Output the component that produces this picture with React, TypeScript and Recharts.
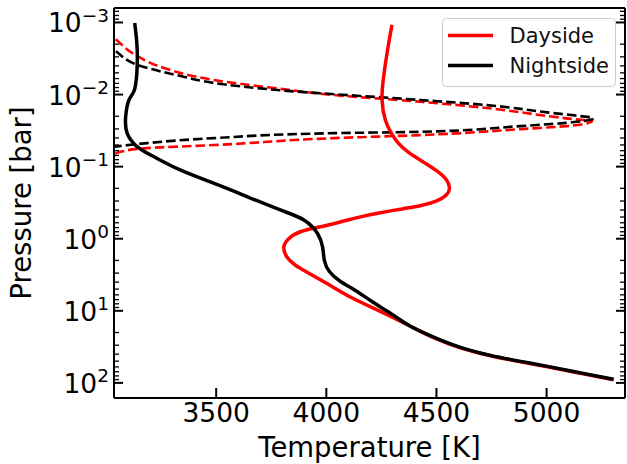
import React from "react";
import { LineChart, Line, XAxis, YAxis, Legend } from "recharts";

// Dayside temperature profile
const dayT = [4298, 4278, 4260, 4253, 4268, 4295, 4327, 4372, 4434, 4500, 4545, 4559, 4548, 4504, 4427, 4350, 4245, 4154, 4004, 3882, 3827, 3807, 3821, 3854, 3897, 4003, 4109, 4245, 4382, 4495, 4609, 4745, 4882, 5004, 5154, 5304];
const dayP = [1.08e-3, 2.41e-3, 5.71e-3, 0.0119, 0.0226, 0.0343, 0.0472, 0.063, 0.0839, 0.1136, 0.152, 0.196, 0.241, 0.297, 0.348, 0.383, 0.435, 0.498, 0.649, 0.8, 1.02, 1.31, 1.79, 2.26, 2.74, 4.19, 6.43, 10.2, 16.4, 24.2, 32.6, 42.1, 51.0, 59.8, 73.6, 90.5];

// Nightside temperature profile
const nightT = [3130, 3139, 3142, 3139, 3127, 3104, 3089, 3096, 3142, 3218, 3339, 3491, 3642, 3794, 3900, 3960, 3983, 3991, 4013, 4063, 4132, 4209, 4291, 4382, 4495, 4609, 4745, 4882, 5004, 5154, 5304];
const nightP = [1.016e-3, 1.81e-3, 3.11e-3, 5.36e-3, 8.93e-3, 0.0119, 0.0203, 0.0346, 0.0531, 0.0731, 0.112, 0.171, 0.262, 0.402, 0.553, 0.847, 1.3, 1.99, 2.83, 3.89, 5.21, 7.5, 10.8, 16.4, 23.7, 32.1, 41.5, 50.3, 59.0, 72.6, 89.3];

// contribution functions (dashed)
const dayCfT = [2995, 3036, 3141, 3263, 3491, 3763, 4036, 4427, 4730, 5031, 5168, 5207, 5139, 4881, 4427, 4036, 3491, 3186, 3066, 3036, 2995];
const dayCfP = [1.31e-3, 1.64e-3, 2.92e-3, 4.29e-3, 6.3e-3, 8.13e-3, 0.01016, 0.0126, 0.0154, 0.0203, 0.0226, 0.0231, 0.0265, 0.0302, 0.0365, 0.0402, 0.0502, 0.0553, 0.0622, 0.067, 0.0741];
const nightCfT = [2995, 3036, 3157, 3339, 3491, 3763, 4427, 4730, 5031, 5154, 5212, 5139, 4881, 4427, 4036, 3491, 3186, 3036, 2995];
const nightCfP = [1.93e-3, 2.39e-3, 4.02e-3, 5.53e-3, 6.92e-3, 8.57e-3, 0.0119, 0.014, 0.0181, 0.0199, 0.0212, 0.0239, 0.0274, 0.0329, 0.0343, 0.0402, 0.0472, 0.0531, 0.0553];

const xTicks = [3500, 4000, 4500, 5000];
const yMajor = [1e-3, 1e-2, 1e-1, 1, 10, 100];
const yExp = ["\u22123", "\u22122", "\u22121", "0", "1", "2"];
const legendNames = ["Dayside", "Nightside"];
const legendColors = ["#ff0000", "#000000"];

const X_DOMAIN = [3036, 5356];
const Y_DOMAIN = [6.3e-4, 162];
const FONT = "DejaVu Sans";

const toRows = (t: number[], p: number[]) => t.map((T, i) => ({ T, P: p[i] }));

const yTicks: number[] = [];
for (let k = -4; k <= 2; k++) {
  for (let m = 1; m <= 9; m++) {
    const v = m * Math.pow(10, k);
    if (v >= Y_DOMAIN[0] && v <= Y_DOMAIN[1]) yTicks.push(v);
  }
}

const majorIndex = (v: number) =>
  yMajor.findIndex((m) => Math.abs(Math.log10(m) - Math.log10(v)) < 1e-6);

const YTickLeft = (props: any) => {
  const { x, y, payload } = props;
  const idx = majorIndex(payload.value);
  const major = idx >= 0;
  return (
    <g>
      <line x1={x} x2={x + (major ? 9 : 5)} y1={y} y2={y} stroke="#000" strokeWidth={major ? 2 : 1.3} />
      {major && (
        <text x={x - 5} y={y + 10} textAnchor="end" fontSize={26.5} fill="#000" fontFamily={FONT}>
          <tspan>10</tspan>
          <tspan dy={-10.6} fontSize={18.5}>{yExp[idx]}</tspan>
        </text>
      )}
    </g>
  );
};

const YTickRight = (props: any) => {
  const { x, y, payload } = props;
  const major = majorIndex(payload.value) >= 0;
  return <line x1={x} x2={x - (major ? 9 : 5)} y1={y} y2={y} stroke="#000" strokeWidth={major ? 2 : 1.3} />;
};

const XTickBottom = (props: any) => {
  const { x, y, payload } = props;
  return (
    <g>
      <line x1={x} x2={x} y1={y} y2={y - 10} stroke="#000" strokeWidth={2} />
      <text x={x} y={y + 23.5} textAnchor="middle" fontSize={26.5} fill="#000" fontFamily={FONT}>
        {payload.value}
      </text>
    </g>
  );
};

const XTickTop = (props: any) => {
  const { x, y } = props;
  return <line x1={x} x2={x} y1={y} y2={y + 10} stroke="#000" strokeWidth={2} />;
};

const renderXLabel = () => (
  <text x={369.5} y={456.5} textAnchor="middle" fontSize={27.5} fill="#000" fontFamily={FONT}>
    Temperature [K]
  </text>
);

const renderYLabel = () => (
  <text x={30.5} y={203} transform="rotate(-90 30.5 203)" textAnchor="middle" fontSize={27.5} fill="#000" fontFamily={FONT}>
    Pressure [bar]
  </text>
);

const renderLegend = () => (
  <svg width={175} height={70} style={{ display: "block" }}>
    <rect x={0.5} y={0.5} width={173} height={68} rx={4} fill="#fff" fillOpacity={0.8} stroke="#cccccc" />
    {legendNames.map((n, i) => (
      <g key={n}>
        <line x1={6} x2={51} y1={17.5 + 30 * i} y2={17.5 + 30 * i} stroke={legendColors[i]} strokeWidth={3.5} />
        <text x={67.5} y={25 + 30 * i} fontSize={21} fill="#111" fontFamily={FONT}>
          {n}
        </text>
      </g>
    ))}
  </svg>
);

export default function App() {
  const axisLine = { stroke: "#000", strokeWidth: 2 };
  return (
    <div style={{ position: "absolute", left: 0, top: 0, fontFamily: FONT }}>
      <LineChart width={627} height={464} margin={{ top: 7, right: 1, bottom: 0, left: 0 }}>
        <XAxis
          dataKey="T"
          type="number"
          domain={X_DOMAIN}
          ticks={xTicks}
          interval={0}
          allowDataOverflow
          height={66}
          tickLine={false}
          tickSize={0}
          tickMargin={0}
          tick={XTickBottom}
          axisLine={axisLine}
          label={renderXLabel}
        />
        <XAxis
          xAxisId="top"
          orientation="top"
          type="number"
          domain={X_DOMAIN}
          ticks={xTicks}
          interval={0}
          allowDataOverflow
          height={1}
          tickLine={false}
          tickSize={0}
          tickMargin={0}
          tick={XTickTop}
          axisLine={axisLine}
        />
        <YAxis
          type="number"
          scale="log"
          reversed
          domain={Y_DOMAIN}
          ticks={yTicks}
          interval={0}
          allowDataOverflow
          width={114}
          tickLine={false}
          tickSize={0}
          tickMargin={0}
          tick={YTickLeft}
          axisLine={axisLine}
          label={renderYLabel}
        />
        <YAxis
          yAxisId="right"
          orientation="right"
          type="number"
          scale="log"
          reversed
          domain={Y_DOMAIN}
          ticks={yTicks}
          interval={0}
          allowDataOverflow
          width={1}
          tickLine={false}
          tickSize={0}
          tickMargin={0}
          tick={YTickRight}
          axisLine={axisLine}
        />
        <Legend
          verticalAlign="middle"
          align="center"
          content={renderLegend}
          wrapperStyle={{ left: 442, top: 18, width: 175, height: 70 }}
        />
        <Line data={toRows(dayCfT, dayCfP)} dataKey="P" type="monotoneY" stroke="#ff0000" strokeWidth={2.6} strokeDasharray="9.5 4" dot={false} activeDot={false} legendType="none" isAnimationActive={false} />
        <Line data={toRows(nightCfT, nightCfP)} dataKey="P" type="monotoneY" stroke="#000000" strokeWidth={2.6} strokeDasharray="9.5 4" dot={false} activeDot={false} legendType="none" isAnimationActive={false} />
        <Line data={toRows(dayT, dayP)} dataKey="P" name="Dayside" type="natural" stroke="#ff0000" strokeWidth={3.5} dot={false} activeDot={false} isAnimationActive={false} />
        <Line data={toRows(nightT, nightP)} dataKey="P" name="Nightside" type="natural" stroke="#000000" strokeWidth={3.5} dot={false} activeDot={false} isAnimationActive={false} />
      </LineChart>
    </div>
  );
}
